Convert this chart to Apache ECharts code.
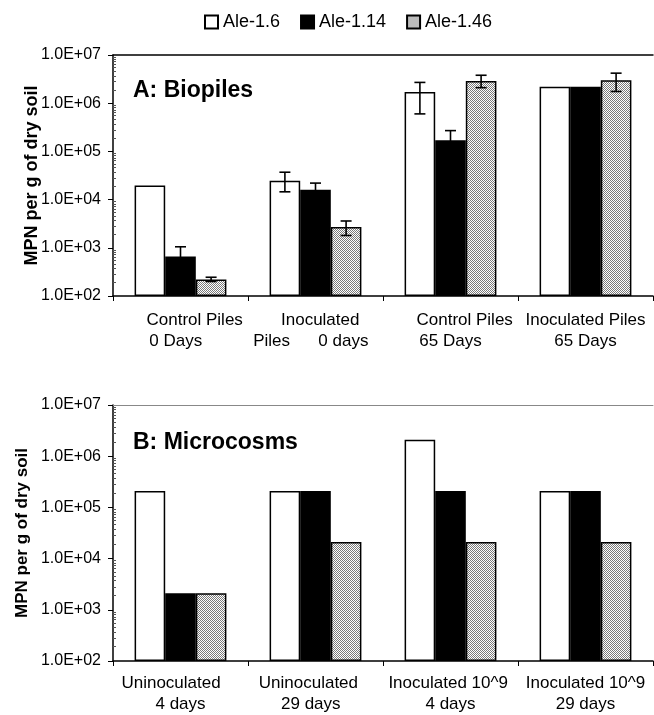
<!DOCTYPE html>
<html>
<head>
<meta charset="utf-8">
<style>html,body{margin:0;padding:0;background:#fff;}#chart{width:654px;height:715px;}</style>
<script src="https://cdn.jsdelivr.net/npm/echarts@6/dist/echarts.min.js"></script>
</head>
<body>
<div id="chart"></div>
<script>
// ---------- data ----------
const seriesNames = ['Ale-1.6', 'Ale-1.14', 'Ale-1.46'];
const catsA = ['      Control Piles\n0 Days  ', '  Inoculated\nPiles      0 days  ', '      Control Piles\n65 Days', 'Inoculated Piles\n65 Days'];
const catsB = ['Uninoculated    \n4 days', 'Uninoculated   \n29 days  ', 'Inoculated 10^9 \n4 days', 'Inoculated 10^9\n29 days'];
const yTickLabels = ['1.0E+02', '1.0E+03', '1.0E+04', '1.0E+05', '1.0E+06', '1.0E+07'];

const ale16A  = [19500, 24500, 1700000, 2200000];
const ale114A = [660, 16000, 170000, 2200000];
const ale146A = [220, 2700, 2900000, 3000000];
// error bars [low, high] (null = none)
const ale16AErr  = [null, [14500, 37000], [600000, 2700000], null];
const ale114AErr = [[420, 1050], [11500, 22000], [110000, 270000], null];
const ale146AErr = [[200, 245], [1800, 3600], [2100000, 3800000], [1750000, 4200000]];

const ale16B  = [210000, 210000, 2100000, 210000];
const ale114B = [2100, 210000, 210000, 210000];
const ale146B = [2100, 21000, 21000, 21000];

const titleA = 'A: Biopiles';
const titleB = 'B: Microcosms';
const yName = 'MPN per g of dry soil';

// ---------- styles ----------
const FONT = "'Liberation Sans', Arial, sans-serif";
const pc = document.createElement('canvas');
pc.width = 2; pc.height = 2;
const pctx = pc.getContext('2d');
pctx.fillStyle = '#ffffff'; pctx.fillRect(0, 0, 2, 2);
pctx.fillStyle = '#7a7a7a'; pctx.fillRect(0, 0, 1, 1); pctx.fillRect(1, 1, 1, 1);
const dotted = { image: pc, repeat: 'repeat' };

const fills = ['#ffffff', '#000000', dotted];
const BAR_GAP_CAT = 0.32;

function yAxes(gridIndex, nameGap, nameSize) {
  return [{
    type: 'log', logBase: 10, min: 100, max: 10000000, startValue: 100,
    gridIndex: gridIndex, position: 'left',
    name: yName, nameLocation: 'middle', nameGap: nameGap, nameMoveOverlap: false,
    nameTextStyle: { fontFamily: FONT, fontWeight: 'bold', fontSize: nameSize, color: '#000' },
    axisLine: { show: true, lineStyle: { color: '#000', width: 1.5 } },
    axisTick: { show: true, length: 5, lineStyle: { color: '#000', width: 1 } },
    axisLabel: {
      fontFamily: FONT, fontSize: 16, color: '#000', margin: 12,
      formatter: v => yTickLabels[Math.round(Math.log10(v)) - 2]
    },
    splitLine: { show: false }
  }, {
    type: 'log', logBase: 10, min: 100, max: 10000000,
    gridIndex: gridIndex, position: 'left', offset: 0,
    axisLine: { show: false },
    axisTick: { show: false, inside: true },
    minorTick: { show: true, splitNumber: 10, length: 3, lineStyle: { color: '#555', width: 1 } },
    axisLabel: { show: false },
    splitLine: { show: false }
  }];
}

function xAxes(gridIndex, cats, margin, topColor, topWidth) {
  return [{
    type: 'category', data: cats, gridIndex: gridIndex, position: 'bottom',
    axisLine: { lineStyle: { color: '#000', width: 1.5 } },
    axisTick: { show: true, length: 5, lineStyle: { color: '#000' } },
    axisLabel: { interval: 0, fontFamily: FONT, fontSize: 17, color: '#000', lineHeight: 21, margin: margin }
  }, {
    type: 'category', data: cats, gridIndex: gridIndex, position: 'top',
    axisLine: { lineStyle: { color: topColor, width: topWidth } },
    axisTick: { show: false }, axisLabel: { show: false }
  }];
}

function barSeries(vals, k, xi, yi) {
  return {
    name: seriesNames[k], type: 'bar', data: vals,
    xAxisIndex: xi, yAxisIndex: yi,
    barGap: '0%', barCategoryGap: (BAR_GAP_CAT * 100) + '%',
    itemStyle: { color: fills[k], borderColor: '#000', borderWidth: 1.5 },
    emphasis: { disabled: true }, animation: false
  };
}

function errData(errs) {
  const out = [];
  errs.forEach((arr, k) => arr.forEach((e, i) => { if (e) out.push([i, k, e[0], e[1]]); }));
  return out;
}

function errSeries(errs, xi, yi) {
  return {
    type: 'custom', xAxisIndex: xi, yAxisIndex: yi, z: 10, silent: true, animation: false,
    data: errData(errs),
    encode: { x: 0, y: [2, 3] },
    renderItem: function (params, api) {
      const cat = api.value(0), k = api.value(1);
      const pLo = api.coord([cat, api.value(2)]);
      const pHi = api.coord([cat, api.value(3)]);
      const band = api.coord([1, api.value(3)])[0] - api.coord([0, api.value(3)])[0];
      const bw = band * (1 - BAR_GAP_CAT) / 3;
      const x = pHi[0] + (k - 1) * bw;
      const cap = 5.5;
      const st = { stroke: '#000', lineWidth: 1.6 };
      return {
        type: 'group', children: [
          { type: 'line', shape: { x1: x, y1: pLo[1], x2: x, y2: pHi[1] }, style: st },
          { type: 'line', shape: { x1: x - cap, y1: pHi[1], x2: x + cap, y2: pHi[1] }, style: st },
          { type: 'line', shape: { x1: x - cap, y1: pLo[1], x2: x + cap, y2: pLo[1] }, style: st }
        ]
      };
    }
  };
}

const chart = echarts.init(document.getElementById('chart'), null, { renderer: 'canvas' });
chart.setOption({
  animation: false,
  backgroundColor: '#fff',
  textStyle: { fontFamily: FONT },
  title: [
    { text: titleA, left: 128, top: 74, textStyle: { fontFamily: FONT, fontWeight: 'bold', fontSize: 23, color: '#000' } },
    { text: titleB, left: 128, top: 426, textStyle: { fontFamily: FONT, fontWeight: 'bold', fontSize: 23, color: '#000' } }
  ],
  legend: {
    data: seriesNames, left: 199, top: 8, itemWidth: 13, itemHeight: 13, itemGap: 20,
    icon: 'rect', selectedMode: false,
    textStyle: { fontFamily: FONT, fontSize: 18, color: '#000' }
  },
  grid: [
    { left: 113, top: 55, width: 540, height: 241 },
    { left: 113, top: 405, width: 540, height: 259 }
  ],
  xAxis: [].concat(xAxes(0, catsA, 14, '#000', 1.5), xAxes(1, catsB, 12, '#888', 1)),
  yAxis: [].concat(yAxes(0, 72, 18), yAxes(1, 82, 17)),
  series: [
    barSeries(ale16A, 0, 0, 0), barSeries(ale114A, 1, 0, 0), barSeries(ale146A, 2, 0, 0),
    errSeries([ale16AErr, ale114AErr, ale146AErr], 0, 0),
    barSeries(ale16B, 0, 2, 2), barSeries(ale114B, 1, 2, 2), barSeries(ale146B, 2, 2, 2)
  ]
});
</script>
</body>
</html>
